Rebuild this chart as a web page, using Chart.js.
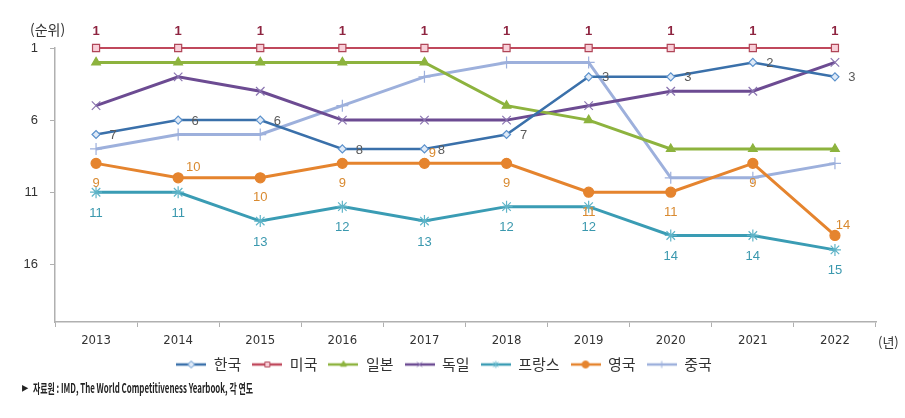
<!DOCTYPE html>
<html lang="ko">
<head>
<meta charset="UTF-8">
<title>국가경쟁력 순위</title>
<script src="https://cdn.jsdelivr.net/npm/chart.js"></script>
<style>
    html, body { margin: 0; padding: 0; background: #fff; }
    #wrap { width: 905px; height: 418px; }
</style>
</head>
<body>
<div id="wrap"><canvas id="rankChart" width="905" height="418"></canvas></div>
<script>
    // data (ranks, lower is better)
    const years = ['2013', '2014', '2015', '2016', '2017', '2018', '2019', '2020', '2021', '2022'];
    const korea   = [7, 6, 6, 8, 8, 7, 3, 3, 2, 3];
    const usa     = [1, 1, 1, 1, 1, 1, 1, 1, 1, 1];
    const japan   = [2, 2, 2, 2, 2, 5, 6, 8, 8, 8];
    const germany = [5, 3, 4, 6, 6, 6, 5, 4, 4, 2];
    const france  = [11, 11, 13, 12, 13, 12, 12, 14, 14, 15];
    const uk      = [9, 10, 10, 9, 9, 9, 11, 11, 9, 14];
    const china   = [8, 7, 7, 5, 3, 2, 2, 10, 10, 9];
    const yTicks  = [1, 6, 11, 16];

    // where each data label goes
    const ukLabelPos = ['below', 'upright', 'below', 'below', 'upright', 'below', 'below', 'below', 'below', 'upright'];

    const KR = "'Noto Sans CJK KR', 'Noto Sans', sans-serif";
    const NARROW = "'Liberation Sans Narrow', 'DejaVu Sans Condensed', 'Liberation Sans', sans-serif";

    // small line + marker image for the legend
    function legendIcon(color, style, fill, markerColor, r) {
        const c = document.createElement('canvas');
        c.width = 30; c.height = 14;
        const g = c.getContext('2d');
        g.strokeStyle = color;
        g.lineWidth = 2.5;
        g.beginPath(); g.moveTo(0, 7); g.lineTo(30, 7); g.stroke();
        g.fillStyle = fill;
        g.strokeStyle = markerColor;
        g.lineWidth = 1;
        Chart.helpers.drawPoint(g, { pointStyle: style, radius: r, rotation: 0, borderWidth: 1 }, 15, 7);
        return c;
    }

    function series(label, data, color, style, fill, markerColor, r, width) {
        return {
            label: label,
            data: data,
            borderColor: color,
            borderWidth: width,
            backgroundColor: fill,
            pointStyle: style,
            pointRadius: r,
            pointBorderColor: markerColor,
            pointBackgroundColor: fill,
            pointBorderWidth: 1.2,
            tension: 0,
            clip: false,
            legendIcon: legendIcon(color, style, fill, markerColor, 3.5)
        };
    }

    const datasets = [
        series('한국', korea, '#3a70aa', 'rectRot', '#dfeaf7', '#5b91cc', 4, 2.5),
        series('미국', usa, '#c0485c', 'rect', '#f8cfd8', '#b04658', 5, 2),
        series('일본', japan, '#8db33e', 'triangle', '#8db33e', '#8db33e', 5, 3),
        series('독일', germany, '#6c4b92', 'crossRot', '#6c4b92', '#8a74b0', 6, 3),
        series('프랑스', france, '#3a9cb4', 'star', '#3a9cb4', '#5fb4c8', 6, 3),
        series('영국', uk, '#e5842e', 'circle', '#e5842e', '#e5842e', 5, 3),
        series('중국', china, '#9db0dc', 'cross', '#9db0dc', '#9db0dc', 6, 3)
    ];

    // value labels next to the points
    const labelPlugin = {
        id: 'rankLabels',
        afterDatasetsDraw(chart) {
            const ctx = chart.ctx;
            ctx.save();
            ctx.textAlign = 'center';
            ctx.textBaseline = 'middle';

            const put = (dsIndex, color, posFn) => {
                const meta = chart.getDatasetMeta(dsIndex);
                const data = chart.data.datasets[dsIndex].data;
                ctx.fillStyle = color;
                meta.data.forEach((pt, i) => {
                    const off = posFn(i);
                    ctx.fillText(String(data[i]), pt.x + off[0], pt.y + off[1]);
                });
            };
            // 미국: above
            ctx.font = "bold 13px 'Liberation Sans', sans-serif";
            put(1, '#8e2440', () => [0, -17]);
            // 한국: right
            ctx.font = "13px 'Liberation Sans', sans-serif";
            put(0, '#5a5a5a', () => [17, 1]);
            // 프랑스: below
            put(4, '#3a98ae', () => [0, 21]);
            // 영국: below or upper right
            put(5, '#d98a30', i => ukLabelPos[i] === 'below' ? [0, 20] : (i === 1 ? [15, -10] : [8, -10]));
            ctx.restore();
        },
        afterDraw(chart) {
            const ctx = chart.ctx;
            ctx.save();
            ctx.fillStyle = '#333';
            ctx.textBaseline = 'middle';
            ctx.textAlign = 'left';
            ctx.font = '14px ' + KR;
            ctx.fillText('(순위)', 30, 30);
            ctx.font = '13px ' + KR;
            ctx.fillText('(년)', 878, 342);
            ctx.fillStyle = '#222';
            ctx.font = 'bold 14px ' + NARROW;
            ctx.fillText('▸', 22, 388);
            ctx.font = 'bold 13px ' + KR;
            ctx.fillText('자료원 : IMD, The World Competitiveness Yearbook, 각 연도', 33, 388, 220);
            ctx.restore();
        }
    };

    new Chart(document.getElementById('rankChart'), {
        type: 'line',
        data: { labels: years, datasets: datasets },
        options: {
            responsive: false,
            animation: false,
            layout: { padding: { left: 12, right: 29, top: 48, bottom: 36 } },
            plugins: {
                tooltip: { enabled: false },
                legend: {
                    position: 'bottom',
                    labels: {
                        usePointStyle: true,
                        pointStyleWidth: 30,
                        padding: 11,
                        color: '#333',
                        font: { size: 15, family: KR },
                        generateLabels(chart) {
                            return chart.data.datasets.map((ds, i) => ({
                                text: ds.label,
                                pointStyle: ds.legendIcon,
                                fontColor: '#333',
                                lineWidth: 0,
                                hidden: false,
                                datasetIndex: i
                            }));
                        }
                    }
                }
            },
            scales: {
                x: {
                    offset: true,
                    grid: {
                        offset: true,
                        drawOnChartArea: false,
                        tickLength: 5,
                        color: '#b0b0b0'
                    },
                    border: { color: '#b0b0b0', width: 1.5 },
                    ticks: {
                        color: '#333',
                        padding: 6,
                        maxRotation: 0,
                        font: { size: 13, family: NARROW }
                    },
                    afterFit(scale) { scale.height = 24; }
                },
                y: {
                    reverse: true,
                    min: 1,
                    max: 20,
                    grid: {
                        drawOnChartArea: false,
                        tickLength: 5,
                        color: '#b0b0b0'
                    },
                    border: { color: '#b0b0b0', width: 1.5 },
                    ticks: {
                        color: '#333',
                        padding: 12,
                        font: { size: 13, family: "'Liberation Sans', sans-serif" }
                    },
                    afterBuildTicks(scale) {
                        scale.ticks = yTicks.map(v => ({ value: v }));
                    },
                    afterFit(scale) { scale.width = 43; }
                }
            }
        },
        plugins: [labelPlugin]
    });
</script>
</body>
</html>
